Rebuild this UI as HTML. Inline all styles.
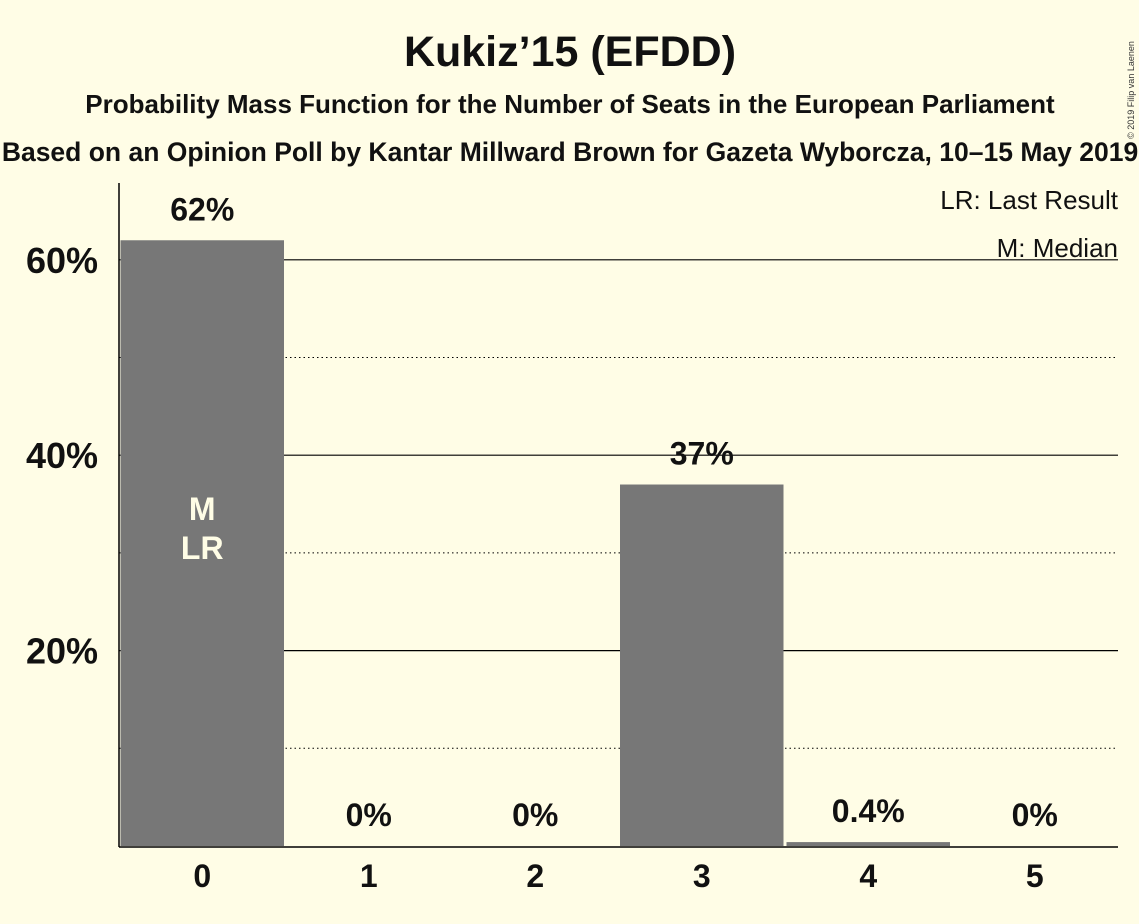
<!DOCTYPE html>
<html><head><meta charset="utf-8"><style>
body{margin:0;background:#fffde6;}
svg{display:block;font-family:"Liberation Sans",sans-serif;}
</style></head><body>
<svg id="chart" width="1139" height="924" viewBox="0 0 1139 924">
<rect width="1139" height="924" fill="#fffde6"/>
<text x="570" y="66" text-anchor="middle" font-size="43" font-weight="bold" fill="#111">Kukiz’15 (EFDD)</text>
<text x="570" y="113" text-anchor="middle" font-size="26" font-weight="bold" fill="#111">Probability Mass Function for the Number of Seats in the European Parliament</text>
<text x="570" y="161" text-anchor="middle" font-size="26.5" font-weight="bold" fill="#111">Based on an Opinion Poll by Kantar Millward Brown for Gazeta Wyborcza, 10–15 May 2019</text>
<text transform="translate(1134,90) rotate(-90)" text-anchor="middle" font-size="9" fill="#333">© 2019 Filip van Laenen</text>
<g id="grid"></g>
<g id="bars"></g>
<g id="labels"></g>
<line x1="119" y1="183" x2="119" y2="847" stroke="#000" stroke-width="1.5"/>
<line x1="119" y1="847" x2="1118" y2="847" stroke="#000" stroke-width="1.5"/>
<text x="1118" y="209" text-anchor="end" font-size="26" fill="#111">LR: Last Result</text>
<text x="1118" y="257" text-anchor="end" font-size="26" fill="#111">M: Median</text>
</svg>
<script>
const categories=[0,1,2,3,4,5];
const values=[62,0,0,37,0.4,0];
const valueLabels=["62%","0%","0%","37%","0.4%","0%"];
const yTicks=[20,40,60];
const yTickLabels=["20%","40%","60%"];
const minorTicks=[10,30,50];
const medianIndex=0, lastResultIndex=0;
const NS="http://www.w3.org/2000/svg";
const x0=119,x1=1118,y0=846,pxPer=9.77;
const slot=(x1-x0)/categories.length;
const y=v=>y0-v*pxPer;
const xs=i=>x0+i*slot;
function mk(t,a,p){const e=document.createElementNS(NS,t);for(const k in a)e.setAttribute(k,a[k]);p.appendChild(e);return e;}
const grid=document.getElementById('grid'),bars=document.getElementById('bars'),labels=document.getElementById('labels');
minorTicks.forEach(v=>{const l=mk('line',{x1:x0,x2:x1,y1:y(v),y2:y(v),stroke:'#000','stroke-width':1,'stroke-dasharray':'1.5,3'},grid);

});
yTicks.forEach((v,i)=>{const l=mk('line',{x1:x0,x2:x1,y1:y(v),y2:y(v),stroke:'#000','stroke-width':1.2},grid);


const t=mk('text',{x:98,y:y(v)+13,'text-anchor':'end','font-size':36,'font-weight':'bold',fill:'#111'},labels);t.textContent=yTickLabels[i];

});
categories.forEach((c,i)=>{
const b=mk('rect',{x:xs(i)+1.5,y:y(values[i]),width:slot-3,height:values[i]*pxPer,fill:'#777'},bars);


const cx=xs(i)+slot/2;
const t=mk('text',{x:cx,y:Math.min(y(values[i])-20,828),'text-anchor':'middle','font-size':32,'font-weight':'bold',fill:'#111'},labels);t.textContent=valueLabels[i];


const xl=mk('text',{x:cx,y:887,'text-anchor':'middle','font-size':32,'font-weight':'bold',fill:'#111'},labels);xl.textContent=c;


});
const mx=xs(medianIndex)+slot/2;
const m=mk('text',{x:mx,y:520,'text-anchor':'middle','font-size':32,'font-weight':'bold',fill:'#fffde6'},labels);m.textContent='M';


const lr=mk('text',{x:xs(lastResultIndex)+slot/2,y:559,'text-anchor':'middle','font-size':32,'font-weight':'bold',fill:'#fffde6'},labels);lr.textContent='LR';


</script>
</body></html>
